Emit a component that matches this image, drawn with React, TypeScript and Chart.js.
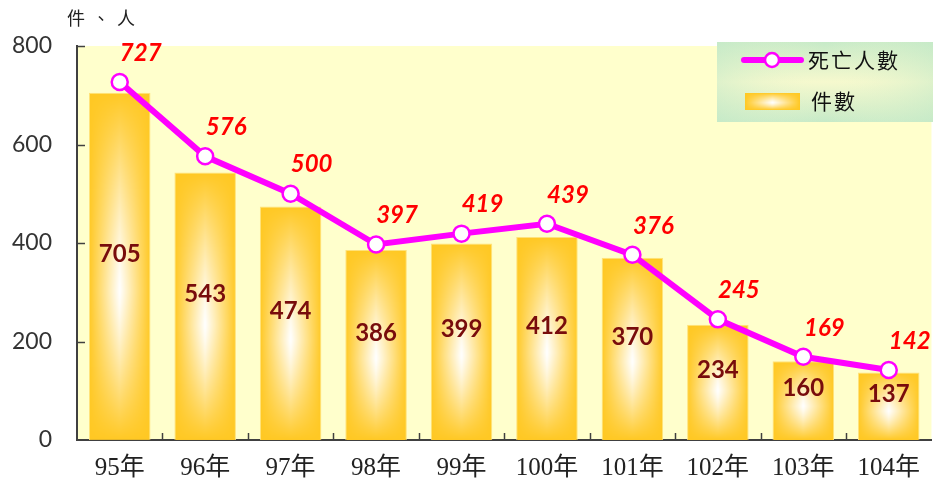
import React, { useEffect, useRef } from "react";
import { Chart, registerables } from "chart.js";

Chart.register(...registerables);

const categories = ["95年", "96年", "97年", "98年", "99年", "100年", "101年", "102年", "103年", "104年"];
const caseCounts = [705, 543, 474, 386, 399, 412, 370, 234, 160, 137];
const deathCounts = [727, 576, 500, 397, 419, 439, 376, 245, 169, 142];
const yTicks = [0, 200, 400, 600, 800];
const yTitle = "件、人";
const lineName = "死亡人數";
const barName = "件數";

const NUM_FONT = "Lato, 'Open Sans', 'Liberation Sans', sans-serif";
const CJK_SERIF = "'Liberation Serif', 'Noto Sans CJK TC', serif";
const GOLD = [255, 200, 35];

let gradCanvas: HTMLCanvasElement | null = null;
function getGradCanvas() {
  if (gradCanvas) return gradCanvas;
  const W = 64, H = 256;
  const c = document.createElement("canvas");
  c.width = W; c.height = H;
  const g = c.getContext("2d")!;
  const img = g.createImageData(W, H);
  const cy = 0.57;
  for (let y = 0; y < H; y++) {
    const v = (y + 0.5) / H;
    const ny = v < cy ? (cy - v) / cy : (v - cy) / (1 - cy);
    for (let x = 0; x < W; x++) {
      const nx = Math.abs(((x + 0.5) / W) * 2 - 1);
      const f = 1 - (1 - Math.pow(nx, 1.0)) * (1 - Math.pow(ny, 1.3));
      const i = (y * W + x) * 4;
      img.data[i] = Math.round(255 + (GOLD[0] - 255) * f);
      img.data[i + 1] = Math.round(255 + (GOLD[1] - 255) * f);
      img.data[i + 2] = Math.round(255 + (GOLD[2] - 255) * f);
      img.data[i + 3] = 255;
    }
  }
  g.putImageData(img, 0, 0);
  gradCanvas = c;
  return c;
}

function makePattern(ctx: CanvasRenderingContext2D, x: number, y: number, w: number, h: number) {
  const c = getGradCanvas();
  const p = ctx.createPattern(c, "no-repeat")!;
  p.setTransform(new DOMMatrix([w / c.width, 0, 0, h / c.height, x, y]));
  return p;
}

const customPlugin = {
  id: "custom",
  beforeDraw(chart: any) {
    const { ctx, chartArea: a } = chart;
    ctx.save();
    ctx.fillStyle = "#FFFFCC";
    ctx.fillRect(a.left, a.top, a.right - a.left, a.bottom - a.top);
    ctx.restore();
  },
  beforeDatasetsDraw(chart: any) {
    const { ctx, chartArea: a, scales } = chart;
    ctx.save();
    ctx.strokeStyle = "#404040";
    ctx.lineWidth = 1.5;
    yTicks.forEach((t) => {
      if (t === 0) return;
      const y = Math.round(scales.y.getPixelForValue(t)) + 0.5;
      ctx.beginPath();
      ctx.moveTo(a.left, y);
      ctx.lineTo(a.left + 8, y);
      ctx.stroke();
    });
    const cw = (a.right - a.left) / categories.length;
    for (let k = 1; k < categories.length; k++) {
      const x = Math.round(a.left + cw * k) + 0.5;
      ctx.beginPath();
      ctx.moveTo(x, a.bottom);
      ctx.lineTo(x, a.bottom - 7);
      ctx.stroke();
    }
    ctx.restore();
  },
  afterDatasetsDraw(chart: any) {
    const { ctx, scales } = chart;
    const xs = scales.x, ys = scales.y;
    ctx.save();
    ctx.textAlign = "center";
    ctx.textBaseline = "middle";
    ctx.font = `bold 24px ${NUM_FONT}`;
    ctx.fillStyle = "#780C0C";
    caseCounts.forEach((v, i) => {
      const x = xs.getPixelForValue(i);
      const top = ys.getPixelForValue(v);
      const base = ys.getPixelForValue(0);
      ctx.fillText(String(v), x, (top + base) / 2 - 12);
    });
    ctx.font = `italic bold 24px ${NUM_FONT}`;
    ctx.fillStyle = "#FF0000";
    deathCounts.forEach((v, i) => {
      const x = xs.getPixelForValue(i);
      const y = ys.getPixelForValue(v);
      ctx.fillText(String(v), x + 21, y - 29);
    });

    ctx.font = `18px ${CJK_SERIF}`;
    ctx.fillStyle = "#222";
    ctx.textAlign = "left";
    (ctx as any).letterSpacing = "7px";
    ctx.fillText(yTitle, 67, 20);
    (ctx as any).letterSpacing = "0px";

    const lx = 717, ly = 42, lw = 230, lh = 80;
    ctx.save();
    ctx.beginPath();
    ctx.rect(lx, ly, lw, lh);
    ctx.clip();
    const lg = ctx.createLinearGradient(0, ly, 0, ly + lh);
    lg.addColorStop(0, "#C6EAC8");
    lg.addColorStop(0.5, "#F6F9CE");
    lg.addColorStop(1, "#C6EAC8");
    ctx.fillStyle = lg;
    ctx.fillRect(lx, ly, lw, lh);
    ctx.globalAlpha = 0.5;
    const hg = ctx.createLinearGradient(lx, 0, lx + 216, 0);
    hg.addColorStop(0, "#C6EAC8");
    hg.addColorStop(0.5, "rgba(246,249,206,0)");
    hg.addColorStop(1, "#C6EAC8");
    ctx.fillStyle = hg;
    ctx.fillRect(lx, ly, lw, lh);
    ctx.restore();

    ctx.strokeStyle = "#FF00FF";
    ctx.lineWidth = 6;
    ctx.lineCap = "round";
    ctx.beginPath();
    ctx.moveTo(744, 60);
    ctx.lineTo(801, 60);
    ctx.stroke();
    ctx.beginPath();
    ctx.arc(772, 60, 7, 0, Math.PI * 2);
    ctx.fillStyle = "#FFFFFF";
    ctx.fill();
    ctx.lineWidth = 2.5;
    ctx.stroke();
    ctx.fillStyle = makePattern(ctx, 745, 93, 55, 17);
    ctx.fillRect(745, 93, 55, 17);

    ctx.fillStyle = "#111";
    ctx.font = `21px ${CJK_SERIF}`;
    (ctx as any).letterSpacing = "2px";
    ctx.fillText(lineName, 808, 62);
    ctx.fillText(barName, 811, 103);
    (ctx as any).letterSpacing = "0px";
    ctx.restore();
  },
};

export default function App() {
  const ref = useRef<HTMLCanvasElement>(null);
  useEffect(() => {
    document.body.style.margin = "0";
    const canvas = ref.current!;
    const chart = new Chart(canvas, {
      type: "bar",
      data: {
        labels: categories,
        datasets: [
          {
            type: "line",
            label: lineName,
            data: deathCounts,
            borderColor: "#FF00FF",
            borderWidth: 6,
            pointRadius: 8,
            pointBackgroundColor: "#FFFFFF",
            pointBorderColor: "#FF00FF",
            pointBorderWidth: 2.5,
            tension: 0,
            clip: false,
            order: 0,
          } as any,
          {
            type: "bar",
            label: barName,
            data: caseCounts,
            categoryPercentage: 0.9,
            barPercentage: 0.8,
            borderWidth: 1,
            borderColor: "#FFE27A",
            order: 1,
            backgroundColor: (c: any) => {
              const chart = c.chart;
              const xs = chart.scales?.x, ys = chart.scales?.y;
              if (!xs || !ys || c.type !== "data") return `rgb(${GOLD.join(",")})`;
              const i = c.dataIndex;
              const v = caseCounts[i];
              const cw = (xs.right - xs.left) / categories.length;
              const w = cw * 0.72;
              const cx = xs.getPixelForValue(i);
              const top = ys.getPixelForValue(v);
              const base = ys.getPixelForValue(0);
              return makePattern(chart.ctx, cx - w / 2, top, w, Math.max(1, base - top));
            },
          } as any,
        ],
      },
      options: {
        responsive: false,
        animation: false,
        layout: { autoPadding: false, padding: { top: 46, right: 0, left: 0, bottom: 0 } },
        plugins: { legend: { display: false }, tooltip: { enabled: false } },
        scales: {
          x: {
            offset: true,
            grid: { display: false, drawOnChartArea: false, drawTicks: false },
            border: { display: true, color: "#404040", width: 2 },
            ticks: {
              color: "#222",
              font: { family: CJK_SERIF, size: 25 },
              padding: 13,
              maxRotation: 0,
              autoSkip: false,
            },
            afterFit: (s: any) => {
              s.height = 46;
            },
          },
          y: {
            min: 0,
            max: 800,
            grid: { display: false, drawOnChartArea: false, drawTicks: false },
            border: { display: true, color: "#404040", width: 2 },
            ticks: {
              stepSize: 200,
              color: "#333",
              font: { family: NUM_FONT, size: 23 },
              padding: 25,
            },
            afterFit: (s: any) => {
              s.width = 77;
            },
          },
        },
      },
      plugins: [customPlugin],
    });
    return () => chart.destroy();
  }, []);
  return (
    <div style={{ position: "fixed", left: 0, top: 0 }}>
      <canvas ref={ref} width={933} height={486} style={{ display: "block" }} />
    </div>
  );
}
